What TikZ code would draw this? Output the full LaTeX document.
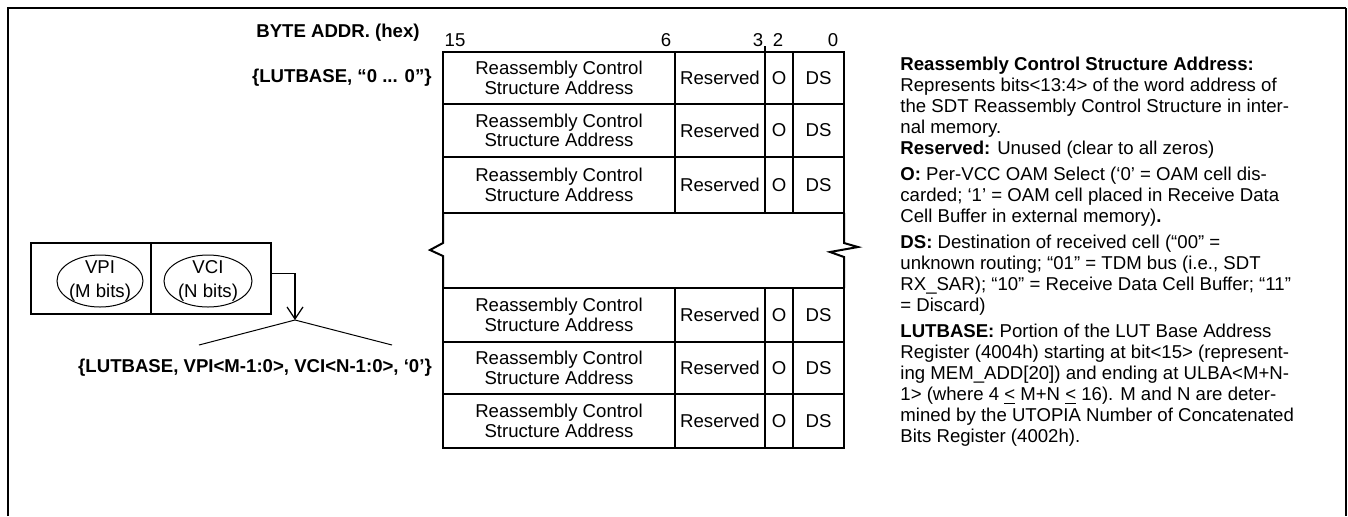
\documentclass[tikz,border=0pt]{standalone}
\usepackage{fontspec}
\setmainfont{Liberation Sans}
\usetikzlibrary{positioning,shapes.geometric,arrows.meta}

\begin{document}
\begin{tikzpicture}[x=0.5pt, y=-0.5pt, font=\fontsize{9.3}{10.5}\selectfont]
    \tikzstyle{cell} = [rectangle, draw, line width=1pt, inner sep=0pt, outer sep=0pt, align=center, font=\fontsize{9.3}{9.8}\selectfont]
    \tikzstyle{field} = [ellipse, draw, line width=0.5pt, minimum width=43pt, minimum height=26pt, inner sep=0pt]
    \tikzstyle{fieldtext} = [inner sep=0pt, align=center, font=\fontsize{9.3}{12}\selectfont]
    \tikzstyle{lbl} = [inner sep=0pt, font=\fontsize{9.3}{10.5}\selectfont\bfseries]
    \tikzstyle{bitno} = [inner sep=0pt]
    \tikzstyle{arrow} = [line width=0.6pt, -{Straight Barb[length=6pt,width=8pt]}]

    \useasboundingbox (0,0) rectangle (1348,516);

    % frame
    \draw[line width=1.2pt] (8,516) -- (8,8) -- (1346,8);
    \draw[line width=0.6pt] (1346,8) -- (1346,516);

    % bit numbers
    \node[bitno] (b15) at (455,40) {15};
    \node[bitno] (b6) at (666,40) {6};
    \node[bitno] (b3) at (758,40) {3};
    \node[bitno] (b2) at (778,40) {2};
    \node[bitno] (b0) at (833,40) {0};
    \draw[line width=1pt] (765,46) -- (765,52);

    % lookup table rows
    \foreach \r/\ytop/\ybot in {1/52/104, 2/104/157, 3/157/213, 4/288/342, 5/342/394, 6/394/448} {
        \pgfmathsetmacro{\rowh}{(\ybot-\ytop)*0.5}
        \node[cell, anchor=north west, minimum width=116pt, minimum height=\rowh pt] (rcsa\r) at (443,\ytop) {Reassembly Control\\Structure Address};
        \node[cell, minimum width=45pt, minimum height=\rowh pt, right=0pt of rcsa\r] (res\r) {Reserved};
        \node[cell, minimum width=14pt, minimum height=\rowh pt, right=0pt of res\r] (o\r) {O};
        \node[cell, minimum width=25.5pt, minimum height=\rowh pt, right=0pt of o\r] (ds\r) {DS};
    }

    % break in the table
    \draw[line width=1pt] (rcsa3.south west) -- (443,243) -- (430,250) -- (443,256) -- (rcsa4.north west);
    \draw[line width=1pt] (ds3.south east) -- (844,243) -- (858,247) -- (830,252) -- (844,257) -- (ds4.north east);

    % address labels
    \node[lbl, anchor=east] (byteaddr) at (420,33) {BYTE ADDR. (hex)};
    \node[lbl, anchor=east] (lutbase) at (432,78) {\{LUTBASE, “0 ... 0”\}};

    % VPI / VCI header fields
    \node[cell, anchor=north west, minimum width=60pt, minimum height=35.5pt] (vpibox) at (31,243) {};
    \node[cell, minimum width=60pt, minimum height=35.5pt, right=0pt of vpibox] (vcibox) {};
    \node[field] (vpi) at (100,281) {};
    \node[field, minimum width=44pt] (vci) at (208,281) {};
    \node[fieldtext] (vpitext) at (vpi) {VPI\\(M bits)};
    \node[fieldtext] (vcitext) at (vci) {VCI\\(N bits)};

    \coordinate (apex) at (295,320);
    \coordinate (fanl) at (199,345);
    \coordinate (fanr) at (392,345);
    \draw[arrow] ([yshift=2.5pt]vcibox.east) -| (apex);
    \draw[line width=0.5pt] (fanl) -- (apex) -- (fanr);
    \node[lbl] (lutaddr) at (255,368) {\{LUTBASE, VPI<M-1:0>, VCI<N-1:0>, ‘0’\}};

    % field descriptions
    \node[anchor=north west, inner sep=0pt, align=left] (notes) at (900,57) {%
        \textbf{Reassembly Control Structure Address:}\\
        Represents bits<13:4> of the word address of\\
        the SDT Reassembly Control Structure in inter-\\
        nal memory.\\
        \textbf{Reserved:} Unused (clear to all zeros)\\[2.5pt]
        \textbf{O:} Per-VCC OAM Select (‘0’ = OAM cell dis-\\
        carded; ‘1’ = OAM cell placed in Receive Data\\
        Cell Buffer in external memory)\textbf{.}\\[2.5pt]
        \textbf{DS:} Destination of received cell (“00” =\\
        unknown routing; “01” = TDM bus (i.e., SDT\\
        RX\_SAR); “10” = Receive Data Cell Buffer; “11”\\
        = Discard)\\[2.5pt]
        \textbf{LUTBASE:} Portion of the LUT Base Address\\
        Register (4004h) starting at bit<15> (represent-\\
        ing MEM\_ADD[20]) and ending at ULBA<M+N-\\
        1> (where 4 \underline{<} M+N \underline{<} 16). M and N are deter-\\
        mined by the UTOPIA Number of Concatenated\\
        Bits Register (4002h).};
\end{tikzpicture}
\end{document}
